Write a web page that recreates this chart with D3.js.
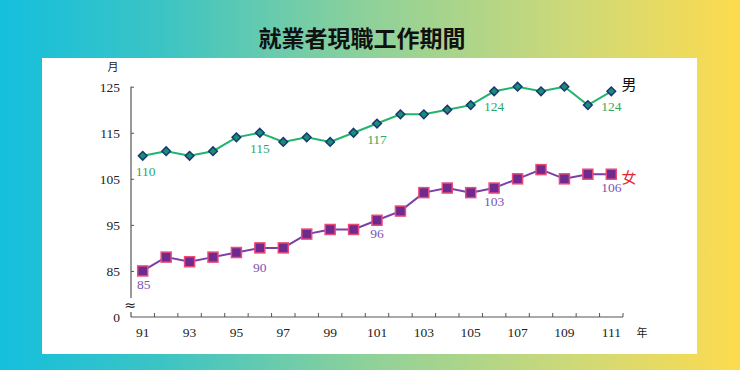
<html>
<head>
<meta charset="utf-8">
<script src="https://cdn.jsdelivr.net/npm/d3@7"></script>
<style>
  body, html { margin:0; padding:0; }
  svg { display:block; }
</style>
</head>
<body>
<svg id="chart" width="740" height="370"></svg>
<script>
// data
var years = [91,92,93,94,95,96,97,98,99,100,101,102,103,104,105,106,107,108,109,110,111];
var male = [110,111,110,111,114,115,113,114,113,115,117,119,119,120,121,124,125,124,125,121,124];
var female = [85,88,87,88,89,90,90,93,94,94,96,98,102,103,102,103,105,107,105,106,106];
var xTickLabels = [91,93,95,97,99,101,103,105,107,109,111];
var yTicks = [85,95,105,115,125];
var maleLabelYears = [91,96,101,106,111];
var femaleLabelYears = [91,96,101,106,111];
var title = "就業者現職工作期間";

var svg = d3.select("#chart");
var serif = "'Liberation Serif', 'Times New Roman', serif";
var cjk = "'Noto Sans CJK TC', sans-serif";

// background
var defs = svg.append("defs");
var grad = defs.append("linearGradient").attr("id", "bg").attr("x1", "0").attr("x2", "1").attr("y1", "0").attr("y2", "0");
grad.append("stop").attr("offset", "0%").attr("stop-color", "#14bfdd");
grad.append("stop").attr("offset", "22%").attr("stop-color", "#3cc4c4");
grad.append("stop").attr("offset", "50%").attr("stop-color", "#8fd199");
grad.append("stop").attr("offset", "78%").attr("stop-color", "#cfd977");
grad.append("stop").attr("offset", "100%").attr("stop-color", "#fddb4e");
svg.append("rect").attr("width", 740).attr("height", 370).attr("fill", "url(#bg)");
svg.append("rect").attr("x", 42).attr("y", 58).attr("width", 655).attr("height", 296).attr("fill", "#fff");

svg.append("text").attr("x", 362).attr("y", 47).attr("text-anchor", "middle")
   .style("font-family", cjk).style("font-weight", "bold").style("font-size", "23px")
   .attr("fill", "#111").text(title);

// scales: bottom of axis (y=317) stands for the axis break, labelled 0
var x = d3.scaleBand().domain(years).range([131, 623]);
var y = d3.scaleLinear().domain([75, 125]).range([317, 86.7]);
var cx = function(d){ return x(d) + x.bandwidth() / 2; };

var axisColor = "#555";

// y axis with break
var yAxis = d3.axisRight(y).tickValues(yTicks).tickSize(3).tickFormat("");
var gy = svg.append("g").attr("transform", "translate(131,0)").call(yAxis);
gy.select(".domain").remove();
gy.selectAll(".tick line").attr("stroke", axisColor);
svg.append("line").attr("x1", 131).attr("x2", 131).attr("y1", y(125)).attr("y2", 298).attr("stroke", axisColor).attr("stroke-width", 1.2);
svg.append("line").attr("x1", 131).attr("x2", 131).attr("y1", 312).attr("y2", 317).attr("stroke", axisColor).attr("stroke-width", 1.2);
svg.append("text").attr("x", 130).attr("y", 310).attr("text-anchor", "middle")
   .style("font-family", "'DejaVu Sans', sans-serif").style("font-size", "14px").attr("fill", "#222").text("≈");

svg.selectAll(".ylab").data(yTicks.concat([75])).enter().append("text")
   .attr("x", 120).attr("y", function(d){ return y(d) + 5; })
   .attr("text-anchor", "end").style("font-family", serif).style("font-size", "13.5px").attr("fill", "#222")
   .text(function(d){ return d === 75 ? "0" : d; });
svg.append("text").attr("x", 113).attr("y", 71).attr("text-anchor", "middle")
   .style("font-family", cjk).style("font-size", "11px").attr("fill", "#222").text("月");

// x axis, ticks pointing up at band edges
svg.append("line").attr("x1", 131).attr("x2", 623).attr("y1", 317).attr("y2", 317).attr("stroke", axisColor).attr("stroke-width", 1.2);
var edges = years.slice(1).map(function(d){ return x(d); }).concat([623]);
svg.selectAll(".xtick").data(edges).enter().append("line")
   .attr("x1", function(d){ return d; }).attr("x2", function(d){ return d; })
   .attr("y1", 317).attr("y2", 313).attr("stroke", axisColor);
svg.selectAll(".xlab").data(xTickLabels).enter().append("text")
   .attr("x", cx).attr("y", 337).attr("text-anchor", "middle")
   .style("font-family", serif).style("font-size", "13.5px").attr("fill", "#222").text(function(d){ return d; });
svg.append("text").attr("x", 642).attr("y", 337).attr("text-anchor", "middle")
   .style("font-family", cjk).style("font-size", "11px").attr("fill", "#222").text("年");

// lines
var line = d3.line().x(function(d){ return cx(d[0]); }).y(function(d){ return y(d[1]); });
var maleData = d3.zip(years, male);
var femaleData = d3.zip(years, female);

svg.append("path").datum(maleData).attr("d", line).attr("fill", "none").attr("stroke", "#20b46c").attr("stroke-width", 2);
svg.append("path").datum(femaleData).attr("d", line).attr("fill", "none").attr("stroke", "#7a3fa8").attr("stroke-width", 2);

// markers
svg.selectAll(".mdot").data(maleData).enter().append("path")
   .attr("d", d3.symbol().type(d3.symbolDiamond2).size(48))
   .attr("transform", function(d){ return "translate(" + cx(d[0]) + "," + y(d[1]) + ")"; })
   .attr("fill", "#17906e").attr("stroke", "#1c3577").attr("stroke-width", 1.5);
svg.selectAll(".fdot").data(femaleData).enter().append("rect")
   .attr("x", function(d){ return cx(d[0]) - 5; }).attr("y", function(d){ return y(d[1]) - 5; })
   .attr("width", 10).attr("height", 10)
   .attr("fill", "#6e2a8e").attr("stroke", "#ec4a78").attr("stroke-width", 1.5);

// value labels
svg.selectAll(".mlab").data(maleLabelYears).enter().append("text")
   .attr("x", function(d){ return cx(d) + (d === 91 ? 3 : 0); })
   .attr("y", function(d){ return y(male[years.indexOf(d)]) + 20; })
   .attr("text-anchor", "middle").style("font-family", serif).style("font-size", "13.5px").attr("fill", "#2ea866")
   .text(function(d){ return male[years.indexOf(d)]; });
svg.selectAll(".flab").data(femaleLabelYears).enter().append("text")
   .attr("x", function(d){ return cx(d) + (d === 91 ? 1 : 0); })
   .attr("y", function(d){ return y(female[years.indexOf(d)]) + (d === 96 ? 24 : 18); })
   .attr("text-anchor", "middle").style("font-family", serif).style("font-size", "13.5px").attr("fill", "#7d52b5")
   .text(function(d){ return female[years.indexOf(d)]; });

svg.append("text").attr("x", 629).attr("y", 90).attr("text-anchor", "middle")
   .style("font-family", cjk).style("font-size", "15px").attr("fill", "#111").text("男");
svg.append("text").attr("x", 629).attr("y", 183).attr("text-anchor", "middle")
   .style("font-family", cjk).style("font-size", "15px").attr("fill", "#e8262e").text("女");
</script>
</body>
</html>
